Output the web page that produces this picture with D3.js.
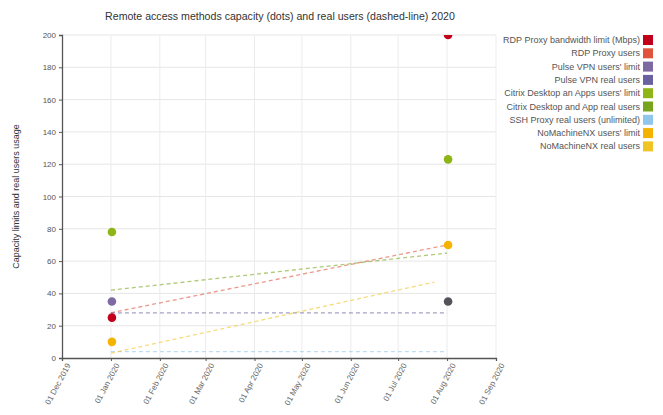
<!DOCTYPE html>
<html>
<head>
<meta charset="utf-8">
<script src="https://cdn.jsdelivr.net/npm/d3@7"></script>
<style>
  html, body { margin: 0; padding: 0; background: #fff; }
  svg { display: block; font-family: "Liberation Sans", Arial, sans-serif; }
</style>
</head>
<body>
<svg id="chart" width="663" height="415"></svg>
<script>
// Series names (legend order)
const seriesNames = [
  "RDP Proxy bandwidth limit (Mbps)",
  "RDP Proxy users",
  "Pulse VPN users' limit",
  "Pulse VPN real users",
  "Citrix Desktop an Apps users' limit",
  "Citrix Desktop and App real users",
  "SSH Proxy real users (unlimited)",
  "NoMachineNX users' limit",
  "NoMachineNX real users"
];
const seriesColors = ["#c2001b", "#e0533d", "#7e6aa3", "#6a62a0", "#8db516", "#78a51e", "#90c6ec", "#f4b300", "#f0c424"];
const seriesKinds = ["dot", "line", "dot", "line", "dot", "line", "line", "dot", "line"];

// Dates and values per series
const seriesDates = [
  ["2020-01-01", "2020-08-01"],
  ["2020-01-01", "2020-08-01"],
  ["2020-01-01", "2020-08-01"],
  ["2020-01-01", "2020-08-01"],
  ["2020-01-01", "2020-08-01"],
  ["2020-01-01", "2020-08-01"],
  ["2020-01-01", "2020-08-01"],
  ["2020-01-01", "2020-08-01"],
  ["2020-01-01", "2020-07-24"]
];
const seriesValues = [
  [25, 200],
  [28, 70],
  [35, 35],
  [28, 28],
  [78, 123],
  [42, 65],
  [4, 4],
  [10, 70],
  [3, 47]
];
// darker fill for the later Pulse VPN limit dot
const pointFillOverride = { "2-1": "#56525c" };

const xTickDates = ["2019-12-01","2020-01-01","2020-02-01","2020-03-01","2020-04-01","2020-05-01","2020-06-01","2020-07-01","2020-08-01","2020-09-01"];
const yTicks = [0, 20, 40, 60, 80, 100, 120, 140, 160, 180, 200];

const titleText = "Remote access methods capacity (dots) and real users (dashed-line) 2020";
const yAxisTitle = "Capacity limits and real users usage";

const parse = d3.timeParse("%Y-%m-%d");
const svg = d3.select("#chart");
const m = { left: 62, right: 496, top: 35, bottom: 358 };

const x = d3.scaleTime()
  .domain([parse(xTickDates[0]), parse(xTickDates[xTickDates.length - 1])])
  .range([m.left, m.right]);
const y = d3.scaleLinear().domain([0, 200]).range([m.bottom, m.top]);

// Grid
const grid = svg.append("g");
grid.selectAll("line.h").data(yTicks.slice(1)).join("line")
  .attr("x1", m.left).attr("x2", m.right)
  .attr("y1", d => y(d)).attr("y2", d => y(d))
  .attr("stroke", "#e6e6e6").attr("stroke-width", 1);
grid.selectAll("line.v").data(xTickDates.slice(1)).join("line")
  .attr("x1", d => x(parse(d))).attr("x2", d => x(parse(d)))
  .attr("y1", m.top).attr("y2", m.bottom)
  .attr("stroke", "#ececec").attr("stroke-width", 1);

// Title
svg.append("text")
  .attr("x", 280).attr("y", 20)
  .attr("text-anchor", "middle")
  .attr("font-size", 10.6).attr("fill", "#333")
  .text(titleText);

// Y axis
const yAxis = svg.append("g")
  .attr("transform", `translate(${m.left},0)`)
  .call(d3.axisLeft(y).tickValues(yTicks).tickSize(3).tickPadding(3));
yAxis.select(".domain").attr("stroke", "#555").attr("stroke-width", 1.3);
yAxis.selectAll(".tick line").attr("stroke", "#555");
yAxis.selectAll("text").attr("font-size", 8).attr("fill", "#555");

svg.append("text")
  .attr("transform", `translate(19,${(m.top + m.bottom) / 2}) rotate(-90)`)
  .attr("text-anchor", "middle")
  .attr("font-size", 9).attr("fill", "#333")
  .text(yAxisTitle);

// X axis
const fmt = d3.timeFormat("%d %b %Y");
const xAxis = svg.append("g")
  .attr("transform", `translate(0,${m.bottom})`)
  .call(d3.axisBottom(x).tickValues(xTickDates.map(parse)).tickFormat(fmt).tickSize(3));
xAxis.select(".domain").attr("stroke", "#555").attr("stroke-width", 1.3);
xAxis.selectAll(".tick line").attr("stroke", "#555");
xAxis.selectAll("text")
  .attr("font-size", 8).attr("fill", "#666")
  .attr("text-anchor", "end")
  .attr("dx", "-0.3em").attr("dy", "0.6em")
  .attr("transform", "rotate(-62)");

// Plot area clip
svg.append("clipPath").attr("id", "plotClip")
  .append("rect").attr("x", m.left).attr("y", m.top)
  .attr("width", m.right - m.left + 10).attr("height", m.bottom - m.top);

const plot = svg.append("g").attr("clip-path", "url(#plotClip)");

const line = d3.line().x(d => x(d.date)).y(d => y(d.value));

seriesNames.forEach((name, i) => {
  const pts = seriesDates[i].map((d, j) => ({ date: parse(d), value: seriesValues[i][j], j }));
  if (seriesKinds[i] === "line") {
    plot.append("path").datum(pts)
      .attr("d", line)
      .attr("fill", "none")
      .attr("stroke", seriesColors[i])
      .attr("stroke-opacity", 0.6)
      .attr("stroke-width", 1.3)
      .attr("stroke-dasharray", "4,3");
  }
});
seriesNames.forEach((name, i) => {
  if (seriesKinds[i] !== "dot") return;
  const pts = seriesDates[i].map((d, j) => ({ date: parse(d), value: seriesValues[i][j], j }));
  plot.selectAll(null).data(pts).join("circle")
    .attr("cx", d => x(d.date) + 1)
    .attr("cy", d => y(d.value))
    .attr("r", 4.3)
    .attr("fill", d => pointFillOverride[`${i}-${d.j}`] || seriesColors[i]);
});

// Legend
const legend = svg.append("g");
seriesNames.forEach((name, i) => {
  const ly = 40 + i * 13.3;
  legend.append("rect")
    .attr("x", 643).attr("y", ly - 5).attr("width", 10).attr("height", 10)
    .attr("fill", seriesColors[i]);
  legend.append("text")
    .attr("x", 640).attr("y", ly + 3)
    .attr("text-anchor", "end")
    .attr("font-size", 9).attr("fill", "#555")
    .text(name);
});
</script>
</body>
</html>
